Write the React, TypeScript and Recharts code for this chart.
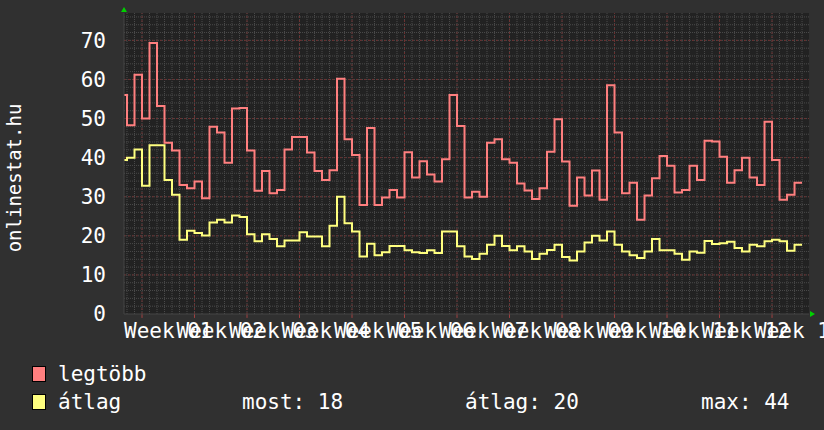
import React from 'react';
import { LineChart, Line, XAxis, YAxis, CartesianGrid, ReferenceLine, ReferenceDot } from 'recharts';

// daily values, day 0 .. day 90
const legtobb = [
  56.0, 48.3, 61.2, 50.0, 69.3, 53.2, 43.8, 41.8, 33.0, 32.2, 33.9, 29.6, 47.9, 46.4, 38.7,
  52.6, 52.7, 41.8, 31.5, 36.6, 30.9, 31.7, 42.1, 45.3, 45.3, 41.3, 36.6, 34.3, 36.8, 60.2,
  44.7, 40.7, 27.9, 47.6, 27.9, 29.8, 31.7, 29.8, 41.4, 34.9, 39.1, 35.7, 33.9, 39.6, 56.0,
  48.1, 29.8, 31.3, 30.0, 43.8, 44.7, 39.6, 38.7, 33.4, 31.6, 29.4, 32.2, 41.5, 49.8, 39.0,
  27.7, 34.9, 30.3, 36.7, 29.2, 58.5, 46.4, 30.9, 33.6, 24.1, 30.3, 34.7, 40.4, 37.9, 31.1,
  31.7, 37.9, 34.3, 44.3, 44.1, 40.2, 33.6, 36.8, 40.0, 34.9, 33.0, 49.2, 39.4, 29.2, 30.5,
  33.6,
];
const atlag = [
  39.4, 40.0, 42.1, 32.8, 43.2, 43.2, 34.3, 30.5, 19.0, 21.3, 20.7, 20.1, 23.4, 24.1, 23.4,
  25.2, 24.8, 20.4, 18.6, 20.4, 19.2, 17.3, 18.8, 18.8, 20.9, 19.8, 19.8, 17.3, 22.6, 30.0,
  23.2, 21.1, 14.7, 18.0, 15.0, 15.8, 17.4, 17.4, 16.3, 15.8, 15.6, 16.3, 15.6, 21.1, 21.1,
  17.3, 14.7, 14.1, 15.4, 17.7, 20.0, 17.4, 16.3, 17.3, 16.0, 14.1, 15.4, 16.4, 17.7, 14.6,
  13.7, 16.0, 18.3, 20.0, 18.8, 21.1, 17.7, 16.0, 15.0, 14.3, 16.0, 19.2, 16.3, 16.3, 15.4,
  13.9, 16.0, 15.7, 18.7, 17.9, 18.1, 18.5, 16.9, 16.0, 17.7, 17.3, 18.6, 19.0, 18.6, 16.2,
  17.7,
];

const weekLabels = ['Week 01', 'Week 02', 'Week 03', 'Week 04', 'Week 05', 'Week 06', 'Week 07',
  'Week 08', 'Week 09', 'Week 10', 'Week 11', 'Week 12', 'Week 13'];
const weekLabelDays = [6.5, 13.5, 20.5, 27.5, 34.5, 41.5, 48.5, 55.5, 62.5, 69.5, 76.5, 83.5, 90.5];
const weekGridDays = [3, 10, 17, 24, 31, 38, 45, 52, 59, 66, 73, 80, 87];
const dayGridDays = Array.from({ length: 91 }, (_, i) => i + 1);
const yTicks = [0, 10, 20, 30, 40, 50, 60, 70];
const yMinor = Array.from({ length: 38 }, (_, i) => (i + 1) * 2);

const X_MIN = 0.6;
const X_MAX = 91.93;
const Y_MAX = 77;

const FONT = "'DejaVu Sans Mono', monospace";
const RED = '#ff7f7f';
const YELLOW = '#ffff7f';

const data = legtobb.map((v, i) => ({ day: i, legtobb: v, atlag: atlag[i] }));
data.push({ day: legtobb.length, legtobb: legtobb[legtobb.length - 1], atlag: atlag[atlag.length - 1] });

const upArrow = (p: any) => (
  <polygon points={`${p.cx - 3},${p.cy - 1} ${p.cx + 3},${p.cy - 1} ${p.cx},${p.cy - 6}`} fill="#00d000" />
);
const rightArrow = (p: any) => (
  <polygon points={`${p.cx + 1},${p.cy - 3} ${p.cx + 1},${p.cy + 3} ${p.cx + 6},${p.cy}`} fill="#00d000" />
);

const LegendBox = ({ color }: { color: string }) => (
  <div style={{ width: 12, height: 14, background: color, border: '1px solid #000' }} />
);

export default function App() {
  return (
    <div style={{ position: 'absolute', left: 0, top: 0, width: 824, height: 430, background: '#303030', fontFamily: FONT, color: '#fff' }}>
      <LineChart width={824} height={430} data={data} margin={{ top: 13, right: 15, left: 64, bottom: 86 }}>
        <CartesianGrid fill="#222222" horizontal={false} vertical={false} />
        {dayGridDays.map((d) => (
          <ReferenceLine key={'dx' + d} x={d} stroke="#4a4a4a" strokeDasharray="1 1" />
        ))}
        {yMinor.map((v) => (
          <ReferenceLine key={'my' + v} y={v} stroke="#4a4a4a" strokeDasharray="1 1" />
        ))}
        {weekGridDays.map((d) => (
          <ReferenceLine key={'wx' + d} x={d} stroke="#6a3232" strokeDasharray="2 2" />
        ))}
        {yTicks.slice(1).map((v) => (
          <ReferenceLine key={'Wy' + v} y={v} stroke="#6a3232" strokeDasharray="2 2" />
        ))}
        {weekGridDays.map((d) => (
          <ReferenceLine key={'wt' + d} segment={[{ x: d, y: 0 }, { x: d, y: -1 }]} stroke="#a04040" ifOverflow="visible" />
        ))}
        <XAxis
          dataKey="day"
          type="number"
          domain={[X_MIN, X_MAX]}
          allowDataOverflow
          ticks={weekLabelDays}
          interval={0}
          tickFormatter={(v: number) => weekLabels[weekLabelDays.indexOf(v)]}
          tickLine={false}
          tickSize={0}
          tickMargin={9}
          height={30}
          axisLine={{ stroke: '#444' }}
          tick={{ fill: '#fff', fontSize: 21, fontFamily: FONT }}
        />
        <YAxis
          type="number"
          domain={[0, Y_MAX]}
          ticks={yTicks}
          allowDataOverflow
          width={60}
          tickLine={false}
          tickSize={0}
          tickMargin={18}
          axisLine={{ stroke: '#444' }}
          tick={{ fill: '#fff', fontSize: 21, fontFamily: FONT }}
        />
        <Line type="stepAfter" dataKey="legtobb" stroke={RED} strokeWidth={2} dot={false} isAnimationActive={false} />
        <Line type="stepAfter" dataKey="atlag" stroke={YELLOW} strokeWidth={2} dot={false} isAnimationActive={false} />
        <ReferenceDot x={X_MIN} y={Y_MAX} r={3} ifOverflow="visible" shape={upArrow} />
        <ReferenceDot x={X_MAX} y={0} r={3} ifOverflow="visible" shape={rightArrow} />
      </LineChart>

      <div style={{ position: 'absolute', left: 14, top: 178, transform: 'translate(-50%, -50%) rotate(-90deg)', whiteSpace: 'nowrap', fontSize: 19 }}>
        onlinestat.hu
      </div>

      <div style={{ position: 'absolute', left: 32, top: 366 }}><LegendBox color={RED} /></div>
      <div style={{ position: 'absolute', left: 58, top: 362, fontSize: 21, lineHeight: '24px', whiteSpace: 'pre' }}>legtöbb</div>
      <div style={{ position: 'absolute', left: 32, top: 394 }}><LegendBox color={YELLOW} /></div>
      <div style={{ position: 'absolute', left: 58, top: 390, fontSize: 21, lineHeight: '24px', whiteSpace: 'pre' }}>átlag</div>
      <div style={{ position: 'absolute', left: 242, top: 390, fontSize: 21, lineHeight: '24px', whiteSpace: 'pre' }}>most: 18</div>
      <div style={{ position: 'absolute', left: 465, top: 390, fontSize: 21, lineHeight: '24px', whiteSpace: 'pre' }}>átlag: 20</div>
      <div style={{ position: 'absolute', left: 701, top: 390, fontSize: 21, lineHeight: '24px', whiteSpace: 'pre' }}>max: 44</div>
    </div>
  );
}
